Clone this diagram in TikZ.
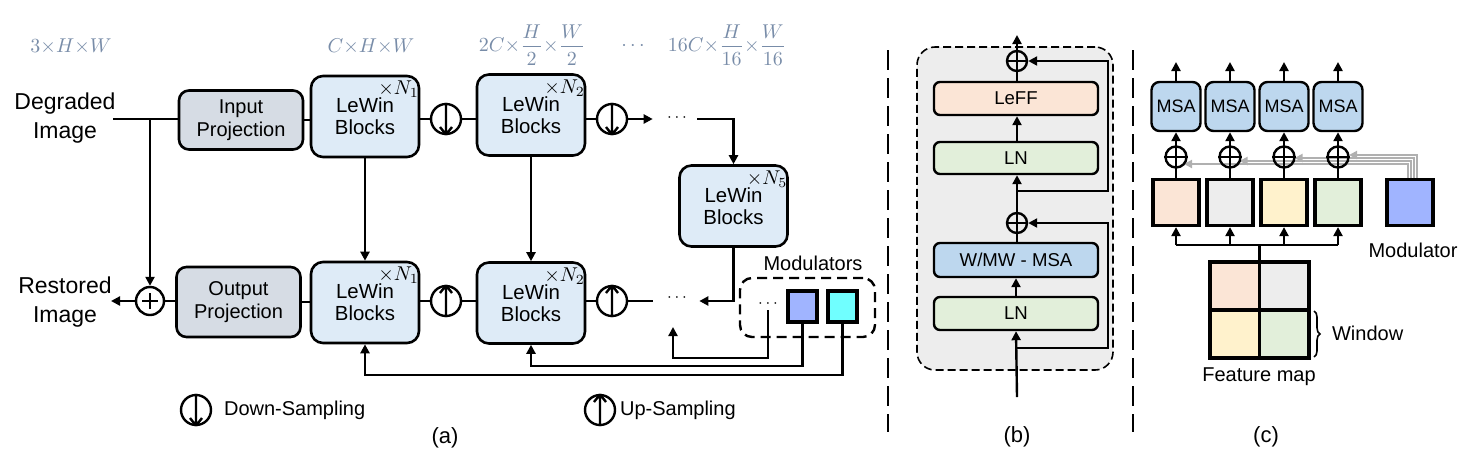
\documentclass[tikz,border=0pt]{standalone}
\usepackage{fontspec}
\setmainfont{Liberation Sans}
\usetikzlibrary{arrows.meta,decorations.pathreplacing,calc}
\definecolor{dimc}{RGB}{120,140,168}
\definecolor{lwfill}{RGB}{222,235,247}
\definecolor{projfill}{RGB}{214,220,228}
\definecolor{lnfill}{RGB}{226,239,218}
\definecolor{msafill}{RGB}{189,215,238}
\definecolor{lefffill}{RGB}{251,229,214}
\definecolor{grayfill}{RGB}{237,237,237}
\definecolor{yellowf}{RGB}{255,242,204}
\definecolor{modA}{RGB}{160,180,255}
\definecolor{modB}{RGB}{112,255,255}
\definecolor{grayarr}{RGB}{176,176,176}
\tikzset{
  conn/.style={line width=1.2pt},
  arr/.style={conn,-{Triangle[length=4.5pt,width=4.5pt]}},
  garr/.style={line width=1pt,draw=grayarr,-{Triangle[length=4pt,width=4pt]}},
  lewin/.style={draw,line width=1.3pt,rounded corners=6pt,fill=lwfill,minimum width=54pt,minimum height=40.5pt,align=center,font=\fontsize{10.2}{11}\selectfont},
  proj/.style={draw,line width=1.3pt,rounded corners=5pt,fill=projfill,minimum width=62pt,align=center,font=\fontsize{10}{11.5}\selectfont},
  sampc/.style={draw,circle,line width=1.2pt,minimum size=15pt,inner sep=0pt},
  nlab/.style={font=\fontsize{10}{11}\selectfont,anchor=north east,inner sep=0pt},
  dimlab/.style={text=dimc,font=\fontsize{10}{11}\selectfont},
  dotl/.style={inner sep=1pt,font=\fontsize{8}{9}\selectfont},
  lbl/.style={font=\fontsize{10}{12}\selectfont},
  bigl/.style={font=\fontsize{11.5}{14.5}\selectfont,align=center},
  bbox/.style={draw,line width=1.2pt,rounded corners=3pt,minimum width=82pt,minimum height=16.5pt,font=\fontsize{9.3}{11}\selectfont},
  oplus/.style={draw,circle,line width=1.2pt,minimum size=10pt,inner sep=0pt},
  msab/.style={draw,line width=1.2pt,rounded corners=4pt,fill=msafill,minimum width=24.5pt,minimum height=24.5pt,inner sep=0pt,font=\fontsize{9}{10}\selectfont},
  featsq/.style={draw,line width=1.6pt,minimum width=23pt,minimum height=23pt,inner sep=0pt},
  modsq/.style={draw,line width=2pt,minimum width=14.5pt,minimum height=15.5pt,inner sep=0pt},
  sep/.style={line width=1.4pt,dash pattern=on 10pt off 4pt}
}
\begin{document}
\begin{tikzpicture}[x=0.5pt,y=-0.5pt]
\useasboundingbox (0,0) rectangle (1470,472);
%% ---------------- (a) ----------------
\node[dimlab] (d0) at (71,46) {$3{\times}H{\times}W$};
\node[dimlab] (d1) at (371,46) {$C{\times}H{\times}W$};
\node[dimlab] (d2) at (532,45) {$\displaystyle 2C{\times}\frac{H}{2}{\times}\frac{W}{2}$};
\node[dimlab] (d3) at (633,46) {$\cdots$};
\node[dimlab] (d4) at (727,45) {$\displaystyle 16C{\times}\frac{H}{16}{\times}\frac{W}{16}$};

\node[bigl] (degr) at (65,118) {Degraded\\Image};
\node[bigl] (rest) at (65,302) {Restored\\Image};
\coordinate (inpt) at (113,119);
\coordinate (br) at (150,119);
\coordinate (outpt) at (111,301);

\node[proj,minimum height=29.5pt] (inproj) at (241,120) {Input\\Projection};
\node[lewin] (lw1t) at (365,116.5) {LeWin\\Blocks};
\node[sampc] (ds1) at (446,119) {};
\node[lewin] (lw2t) at (531,115) {LeWin\\Blocks};
\node[sampc] (ds2) at (612,119) {};
\node[dotl] (dotsT) at (677,118) {$\cdots$};
\node[lewin] (lw5) at (733.5,206) {LeWin\\Blocks};

\node[draw,circle,line width=1.2pt,minimum size=14pt,inner sep=0pt] (plus) at (150,301) {};
\draw[conn] (plus.center) +(-4pt,0) -- +(4pt,0) (plus.center) +(0,-4pt) -- +(0,4pt);
\node[proj,minimum height=35pt] (outproj) at (238.5,302) {Output\\Projection};
\node[lewin] (lw1b) at (365,302.5) {LeWin\\Blocks};
\node[sampc] (us1) at (446,301) {};
\node[lewin] (lw2b) at (531,303) {LeWin\\Blocks};
\node[sampc] (us2) at (612,301) {};
\node[dotl] (dotsB) at (677,298) {$\cdots$};

\node[nlab] at ([xshift=-0.5pt,yshift=-3pt]lw1t.north east) {$\times N_1$};
\node[nlab] at ([xshift=-0.5pt,yshift=-3pt]lw2t.north east) {$\times N_2$};
\node[nlab] at ([xshift=-0.5pt,yshift=-3pt]lw5.north east) {$\times N_5$};
\node[nlab] at ([xshift=-0.5pt,yshift=-3pt]lw1b.north east) {$\times N_1$};
\node[nlab] at ([xshift=-0.5pt,yshift=-3pt]lw2b.north east) {$\times N_2$};

% sampling arrows
\foreach \n in {ds1,ds2}
  \draw[conn,line join=miter] (\n.north) -- (\n.south) ([yshift=0.3pt]\n.south) -- +(-3pt,3.8pt) ([yshift=0.3pt]\n.south) -- +(3pt,3.8pt);
\foreach \n in {us1,us2}
  \draw[conn] (\n.south) -- (\n.north) ([yshift=-0.3pt]\n.north) -- +(-3pt,-3.8pt) ([yshift=-0.3pt]\n.north) -- +(3pt,-3.8pt);

% modulators
\node[lbl] (modl) at (813,263) {Modulators};
\node[draw,line width=1.2pt,dashed,dash pattern=on 5pt off 3pt,rounded corners=6pt,minimum width=67.5pt,minimum height=29.5pt] (modbox) at (807.5,307.5) {};
\node[dotl] (mdots) at (768,304) {$\cdots$};
\node[modsq,fill=modA] (sq1) at (802.5,306.5) {};
\node[modsq,fill=modB] (sq2) at (842.5,306.5) {};
\coordinate (fbA) at (673,327);

% connectors (a)
\draw[conn] (inpt) -- (inproj.west |- inpt);
\draw[arr] (br) -- (plus.north);
\draw[conn] (inproj.east) -- (lw1t.west |- inproj.east);
\draw[conn] (lw1t.east |- ds1) -- (ds1.west);
\draw[conn] (ds1.east) -- (lw2t.west |- ds1);
\draw[conn] (lw2t.east |- ds2) -- (ds2.west);
\draw[arr,shorten >=6pt] (ds2.east) -- (dotsT.west |- ds2);
\draw[arr,shorten <=4pt] (dotsT.east |- ds2) -| (lw5.north);
\draw[arr,shorten >=5pt] (lw5.south) |- (dotsB.east |- us2);
\draw[conn,shorten >=6pt] (us2.east) -- (dotsB.west |- us2);
\draw[conn] (lw2b.east |- us2) -- (us2.west);
\draw[conn] (us1.east) -- (lw2b.west |- us1);
\draw[conn] (lw1b.east |- us1) -- (us1.west);
\draw[conn] (outproj.east) -- (lw1b.west |- outproj.east);
\draw[conn] (plus.east) -- (outproj.west |- plus);
\draw[arr] (plus.west) -- (outpt);
\draw[arr] (lw1t.south) -- (lw1b.north);
\draw[arr] (lw2t.south) -- (lw2t.south |- lw2b.north);
\draw[arr] (mdots.south) -- (mdots.south |- 0,358) -| (fbA);
\draw[arr] (sq1.south) -- (sq1.south |- 0,366) -| (lw2b.south);
\draw[arr] (sq2.south) -- (sq2.south |- 0,375) -| (lw1b.south);

% legend
\node[sampc] (lgd) at (196,410) {};
\draw[conn] (lgd.north) -- (lgd.south) ([yshift=0.3pt]lgd.south) -- +(-3pt,3.8pt) ([yshift=0.3pt]lgd.south) -- +(3pt,3.8pt);
\node[lbl,anchor=west] (lgdt) at (217,410) {Down-Sampling};
\node[sampc] (lgu) at (600,410) {};
\draw[conn] (lgu.south) -- (lgu.north) ([yshift=-0.3pt]lgu.north) -- +(-3pt,-3.8pt) ([yshift=-0.3pt]lgu.north) -- +(3pt,-3.8pt);
\node[lbl,anchor=west] (lgut) at (613,410) {Up-Sampling};
\node[font=\fontsize{11}{13}\selectfont] (capa) at (445,438) {(a)};

% separators
\draw[sep] (888,50) -- (888,432);
\draw[sep] (1133,50) -- (1133,432);

%% ---------------- (b) ----------------
\node[draw,line width=0.8pt,dashed,dash pattern=on 4pt off 2pt,rounded corners=9pt,fill=grayfill,minimum width=98pt,minimum height=161.5pt] (blk) at (1015,208.5) {};
\node[bbox,fill=lnfill] (ln1) at (1016,313.5) {LN};
\node[bbox,fill=msafill,minimum height=17pt] (wmsa) at (1016,260) {W/MW - MSA};
\node[oplus] (p1) at (1017,223) {};
\node[bbox,fill=lnfill,minimum height=16pt] (ln2) at (1016,158) {LN};
\node[bbox,fill=lefffill] (leff) at (1016,98.5) {LeFF};
\node[oplus] (p2) at (1017,61) {};
\foreach \n in {p1,p2}
  \draw[conn] (\n.north) -- (\n.south) (\n.west) -- (\n.east);
\coordinate (bin) at (1017,397);
\coordinate (bout) at (1017,35);
\coordinate (r1) at (1017,348);
\coordinate (r2) at (1017,191);
\draw[arr] (bin) -- (ln1.south);
\draw[arr] (ln1.north) -- (ln1.north |- wmsa.south);
\draw[conn] (wmsa.north -| p1) -- (p1.south);
\draw[arr] (p1.north) -- (p1.north |- ln2.south);
\draw[arr] (ln2.north -| p1) -- (p1 |- leff.south);
\draw[conn] (leff.north -| p2) -- (p2.south);
\draw[arr] (p2.north) -- (bout);
\draw[arr] (r1) -- ++(91,0) |- (p1.east);
\draw[arr] (r2) -- ++(91,0) |- (p2.east);
\node[font=\fontsize{11}{13}\selectfont] (capb) at (1017,437) {(b)};

%% ---------------- (c) ----------------
\foreach \i/\x/\c in {1/1176/lefffill,2/1230/grayfill,3/1284/yellowf,4/1338/lnfill}{
  \node[msab] (m\i) at (\x,106.5) {MSA};
  \node[featsq,fill=\c] (f\i) at (\x,202.5) {};
  \coordinate (o\i) at (\x,62);
}
\node[featsq,fill=modA] (modc) at (1410,202.5) {};
% gray modulator lines
\draw[garr] (1417,178) -- (1417,155) -- (1349,155);
\draw[garr] (1414,178) -- (1414,158) -- (1294.5,158);
\draw[garr] (1411,178) -- (1411,161) -- (1239.5,161);
\draw[garr] (1408,178) -- (1408,164) -- (1184,164);
\foreach \i/\x in {1/1176,2/1230,3/1284,4/1338}{
  \node[oplus,minimum size=10.5pt] (q\i) at (\x,157) {};
  \draw[conn] (q\i.north) -- (q\i.south) (q\i.west) -- (q\i.east);
  \draw[conn] (f\i.north) -- (q\i.south);
  \draw[arr] (q\i.north) -- (m\i.south);
  \draw[arr] (m\i.north) -- (o\i);
}
% feature map
\fill[lefffill] (1210,262) rectangle (1259.5,310);
\fill[grayfill] (1259.5,262) rectangle (1309,310);
\fill[yellowf] (1210,310) rectangle (1259.5,358);
\fill[lnfill] (1259.5,310) rectangle (1309,358);
\draw[line width=1.6pt] (1210,262) rectangle (1309,358) (1259.5,262) -- (1259.5,358) (1210,310) -- (1309,310);
\coordinate (fmtop) at (1259.5,262);
\coordinate (ft) at (1259.5,245);
\draw[conn] (fmtop) -- (ft);
\draw[conn] (f1.south |- ft) -- (f4.south |- ft);
\foreach \i in {1,2,3,4}
  \draw[arr] (f\i.south |- ft) -- (f\i.south);
\draw[line width=0.8pt,decorate,decoration={brace,amplitude=3pt}] (1314,311) -- (1314,357);
\node[lbl,anchor=west] (win) at (1325,333) {Window};
\node[lbl] (fml) at (1259,377) {Feature map};
\node[lbl] (modt) at (1413,250) {Modulator};
\node[font=\fontsize{11}{13}\selectfont] (capc) at (1266,437) {(c)};
\end{tikzpicture}
\end{document}
